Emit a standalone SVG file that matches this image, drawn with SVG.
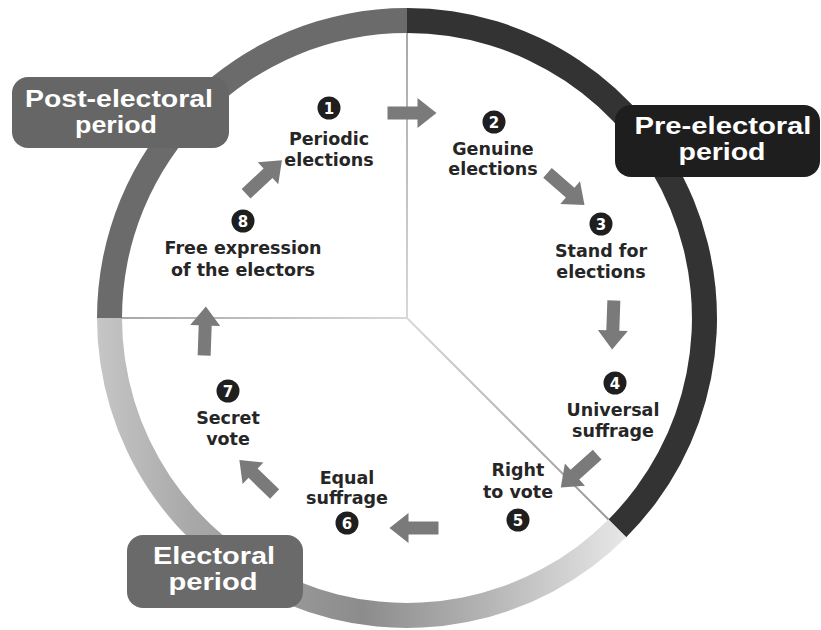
<svg xmlns="http://www.w3.org/2000/svg" width="821" height="630" viewBox="0 0 821 630">
<defs>
<linearGradient id="gElec" gradientUnits="userSpaceOnUse" x1="97" y1="0" x2="628" y2="0">
<stop offset="0" stop-color="#c6c6c6"/>
<stop offset="0.18" stop-color="#a8a8a8"/>
<stop offset="0.5" stop-color="#8c8c8c"/>
<stop offset="0.72" stop-color="#b2b2b2"/>
<stop offset="1" stop-color="#e8e8e8"/>
</linearGradient>
<linearGradient id="gV" gradientUnits="userSpaceOnUse" x1="0" y1="33" x2="0" y2="318">
<stop offset="0" stop-color="#a8a8a8"/>
<stop offset="1" stop-color="#d8d8d8"/>
</linearGradient>
<linearGradient id="gH" gradientUnits="userSpaceOnUse" x1="122" y1="0" x2="407" y2="0">
<stop offset="0" stop-color="#a8a8a8"/>
<stop offset="1" stop-color="#d8d8d8"/>
</linearGradient>
<linearGradient id="gD" gradientUnits="userSpaceOnUse" x1="407" y1="318" x2="608.5" y2="519.5">
<stop offset="0" stop-color="#d8d8d8"/>
<stop offset="1" stop-color="#999999"/>
</linearGradient>
<path id="arr" d="M-24.5,-6.5 L5.5,-6.5 L5.5,-15 L24.5,0 L5.5,15 L5.5,6.5 L-24.5,6.5 Z"/>
</defs>
<style>
.lbl{font-family:"Liberation Sans","DejaVu Sans",sans-serif;font-weight:bold;font-size:23px;fill:#ffffff;text-anchor:middle}
.txt{font-family:"DejaVu Sans","Liberation Sans",sans-serif;font-weight:bold;font-size:17.5px;fill:#262626;text-anchor:middle}
.num{font-family:"DejaVu Sans","Liberation Sans",sans-serif;font-weight:bold;font-size:15px;fill:#ffffff;text-anchor:middle}
.dot{fill:#1f1f1f}
.arrow{fill:#7a7a7a}
.div{stroke-width:2;fill:none}
</style>
<rect width="821" height="630" fill="#ffffff"/>
<g id="ring">
<path d="M407,8 A310,310 0 0 1 626.2,537.2 L608.5,519.5 A285,285 0 0 0 407,33 Z" fill="#333333"/>
<path d="M626.2,537.2 A310,310 0 0 1 97,318 L122,318 A285,285 0 0 0 608.5,519.5 Z" fill="url(#gElec)"/>
<path d="M97,318 A310,310 0 0 1 407,8 L407,33 A285,285 0 0 0 122,318 Z" fill="#6b6b6b"/>
</g>
<g id="dividers">
<line class="div" stroke="url(#gV)" x1="407" y1="33" x2="407" y2="318"/>
<line class="div" stroke="url(#gH)" x1="122" y1="318" x2="407" y2="318"/>
<line class="div" stroke="url(#gD)" x1="407" y1="318" x2="608.5" y2="519.5"/>
</g>
<g id="label-post">
<rect x="12" y="77" width="217" height="71" rx="16" fill="#666666"/>
<text class="lbl" x="119" y="107" textLength="188" lengthAdjust="spacingAndGlyphs">Post-electoral</text>
<text class="lbl" x="116" y="133" textLength="82" lengthAdjust="spacingAndGlyphs">period</text>
</g>
<g id="label-pre">
<rect x="615" y="105" width="205" height="72" rx="16" fill="#1e1e1e"/>
<text class="lbl" x="723" y="134" textLength="177" lengthAdjust="spacingAndGlyphs">Pre-electoral</text>
<text class="lbl" x="722" y="160" textLength="87" lengthAdjust="spacingAndGlyphs">period</text>
</g>
<g id="label-electoral">
<rect x="127" y="535" width="176" height="73" rx="16" fill="#6a6a6a"/>
<text class="lbl" x="214" y="564" textLength="122" lengthAdjust="spacingAndGlyphs">Electoral</text>
<text class="lbl" x="213" y="590" textLength="89" lengthAdjust="spacingAndGlyphs">period</text>
</g>
<g id="connectors">
<use href="#arr" class="arrow" transform="translate(412,113) rotate(0)"/>
<use href="#arr" class="arrow" transform="translate(566,189) rotate(41)"/>
<use href="#arr" class="arrow" transform="translate(613,325) rotate(92)"/>
<use href="#arr" class="arrow" transform="translate(579,471) rotate(138)"/>
<use href="#arr" class="arrow" transform="translate(414,528) rotate(180)"/>
<use href="#arr" class="arrow" transform="translate(257,477) rotate(224)"/>
<use href="#arr" class="arrow" transform="translate(205,331) rotate(-88)"/>
<use href="#arr" class="arrow" transform="translate(264,177) rotate(-43)"/>
</g>
<g id="node1">
<circle class="dot" cx="329" cy="108" r="11.5"/>
<text class="num" x="329" y="113.5">1</text>
<text class="txt" x="329" y="145">Periodic</text>
<text class="txt" x="329" y="166">elections</text>
</g>
<g id="node2">
<circle class="dot" cx="494" cy="122" r="11.5"/>
<text class="num" x="494" y="127.5">2</text>
<text class="txt" x="493" y="155">Genuine</text>
<text class="txt" x="493" y="175">elections</text>
</g>
<g id="node3">
<circle class="dot" cx="601" cy="224" r="11.5"/>
<text class="num" x="601" y="229.5">3</text>
<text class="txt" x="601" y="257">Stand for</text>
<text class="txt" x="601" y="278">elections</text>
</g>
<g id="node4">
<circle class="dot" cx="615" cy="383" r="11.5"/>
<text class="num" x="615" y="388.5">4</text>
<text class="txt" x="613" y="416">Universal</text>
<text class="txt" x="613" y="437">suffrage</text>
</g>
<g id="node5">
<text class="txt" x="518" y="476">Right</text>
<text class="txt" x="518" y="498">to vote</text>
<circle class="dot" cx="518" cy="520" r="11.5"/>
<text class="num" x="518" y="525.5">5</text>
</g>
<g id="node6">
<text class="txt" x="347" y="484">Equal</text>
<text class="txt" x="347" y="504">suffrage</text>
<circle class="dot" cx="347" cy="523" r="11.5"/>
<text class="num" x="347" y="528.5">6</text>
</g>
<g id="node7">
<circle class="dot" cx="228" cy="391" r="11.5"/>
<text class="num" x="228" y="396.5">7</text>
<text class="txt" x="228" y="424">Secret</text>
<text class="txt" x="228" y="445">vote</text>
</g>
<g id="node8">
<circle class="dot" cx="243" cy="221" r="11.5"/>
<text class="num" x="243" y="226.5">8</text>
<text class="txt" x="243" y="254">Free expression</text>
<text class="txt" x="243" y="276">of the electors</text>
</g>
</svg>
